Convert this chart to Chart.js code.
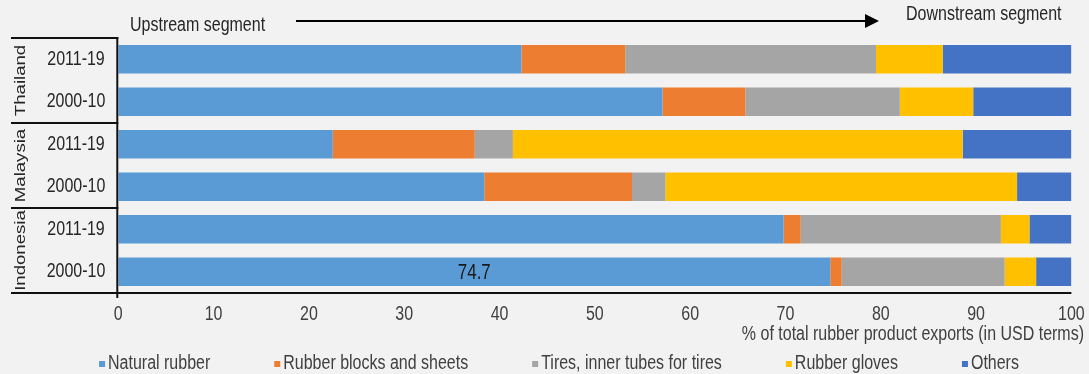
<!DOCTYPE html>
<html>
<head>
<meta charset="utf-8">
<script src="https://cdn.jsdelivr.net/npm/chart.js@4.4.1/dist/chart.umd.min.js"></script>
<style>
  html, body { margin: 0; padding: 0; background: #f2f2f2; }
  #wrap { width: 1089px; height: 374px; }
</style>
</head>
<body>
<div id="wrap"><canvas id="rubberChart"></canvas></div>
<script>
// rows, top to bottom: two periods per country
const periods = ['2011-19', '2000-10', '2011-19', '2000-10', '2011-19', '2000-10'];
const countries = ['Thailand', 'Malaysia', 'Indonesia'];

// share of total rubber product exports, %
const naturalRubber = [42.3, 57.1, 22.5, 38.4, 69.8, 74.7];
const blocksSheets  = [10.9,  8.7, 14.9, 15.5,  1.8,  1.2];
const tires         = [26.3, 16.2,  4.0,  3.5, 21.0, 17.1];
const gloves        = [ 7.0,  7.7, 47.2, 36.9,  3.0,  3.3];
const others        = [13.5, 10.3, 11.4,  5.7,  4.4,  3.7];

const seriesNames = ['Natural rubber', 'Rubber blocks and sheets', 'Tires, inner tubes for tires', 'Rubber gloves', 'Others'];
const seriesData = [naturalRubber, blocksSheets, tires, gloves, others];
const seriesColors = ['#5b9bd5', '#ed7d31', '#a5a5a5', '#ffc000', '#4472c4'];

const xTitle = '% of total rubber product exports (in USD terms)';
const SANS = '"Liberation Sans", Arial, sans-serif';
const TEXT = '#262626';
const SQUEEZE = 0.82; // narrow look: regular sans squeezed horizontally

function narrowWidth(ctx, txt, size = 19.5, squeeze = SQUEEZE) {
  ctx.font = size + 'px ' + SANS;
  return ctx.measureText(txt).width * squeeze;
}

function narrowText(ctx, txt, x, y, align, color, size = 19.5, squeeze = SQUEEZE) {
  ctx.save();
  ctx.translate(x, y);
  ctx.scale(squeeze, 1);
  ctx.font = size + 'px ' + SANS;
  ctx.textAlign = align;
  ctx.textBaseline = 'middle';
  ctx.fillStyle = color;
  ctx.fillText(txt, 0, 0);
  ctx.restore();
}

// labels, axis text, group separators, arrow and legend drawn around the plot
const decor = {
  id: 'decor',
  afterDraw(chart) {
    const { ctx, chartArea: a } = chart;
    const x = chart.scales.x;
    const y = chart.scales.y;
    const step = y.getPixelForValue(1) - y.getPixelForValue(0);
    ctx.save();

    // group separator lines and axis lines
    ctx.strokeStyle = '#111';
    ctx.lineWidth = 2;
    [0, 2, 4].forEach(i => {
      const yy = y.getPixelForValue(i) - step / 2;
      ctx.beginPath();
      ctx.moveTo(11, yy);
      ctx.lineTo(a.left, yy);
      ctx.stroke();
    });
    ctx.beginPath();
    ctx.moveTo(11, a.bottom);
    ctx.lineTo(a.right, a.bottom);
    ctx.stroke();
    ctx.beginPath();
    ctx.moveTo(a.left - 1, a.top - 1);
    ctx.lineTo(a.left - 1, a.bottom + 5);
    ctx.stroke();

    // period labels
    periods.forEach((p, i) => narrowText(ctx, p, 76, y.getPixelForValue(i), 'center', TEXT));

    // country labels, rotated
    countries.forEach((c, g) => {
      const cy = y.getPixelForValue(g * 2) + step / 2;
      ctx.save();
      ctx.translate(21, cy);
      ctx.rotate(-Math.PI / 2);
      ctx.scale(1.2, 1);
      ctx.font = '15.5px ' + SANS;
      ctx.fillStyle = TEXT;
      ctx.textAlign = 'center';
      ctx.textBaseline = 'middle';
      ctx.fillText(c, 0, 0);
      ctx.restore();
    });

    // x tick labels and axis title
    x.ticks.forEach(t => narrowText(ctx, String(t.value), x.getPixelForValue(t.value), 315, 'center', '#404040'));
    narrowText(ctx, xTitle, 1084, 335, 'right', '#404040');

    // value on the Indonesia 2000-10 natural rubber bar
    const bar = chart.getDatasetMeta(0).data[5];
    narrowText(ctx, naturalRubber[5].toFixed(1), (bar.x + bar.base) / 2, bar.y + 1, 'center', '#1a1a1a', 22, 0.77);

    // upstream -> downstream arrow
    narrowText(ctx, 'Upstream segment', 130, 26, 'left', TEXT);
    narrowText(ctx, 'Downstream segment', 906, 15, 'left', TEXT);
    ctx.strokeStyle = '#000';
    ctx.beginPath();
    ctx.moveTo(296, 21);
    ctx.lineTo(868, 21);
    ctx.stroke();
    ctx.fillStyle = '#000';
    ctx.beginPath();
    ctx.moveTo(879, 21);
    ctx.lineTo(865, 14);
    ctx.lineTo(865, 28);
    ctx.closePath();
    ctx.fill();

    // legend
    const gap = 64;
    const widths = seriesNames.map(n => 9 + narrowWidth(ctx, n));
    const total = widths.reduce((s, w) => s + w, 0) + gap * (widths.length - 1);
    let lx = 559 - total / 2;
    seriesNames.forEach((n, i) => {
      ctx.fillStyle = seriesColors[i];
      ctx.fillRect(lx, 361, 6, 6);
      narrowText(ctx, n, lx + 9, 364, 'left', '#404040');
      lx += widths[i] + gap;
    });

    ctx.restore();
  }
};

new Chart(document.getElementById('rubberChart'), {
  type: 'bar',
  data: {
    labels: periods,
    datasets: seriesNames.map((name, i) => ({
      label: name,
      data: seriesData[i],
      backgroundColor: seriesColors[i],
      borderWidth: 0,
      barPercentage: 0.67,
      categoryPercentage: 1
    }))
  },
  options: {
    indexAxis: 'y',
    responsive: true,
    maintainAspectRatio: false,
    animation: false,
    devicePixelRatio: 1,
    layout: { padding: { top: 38, right: 17.6, bottom: 28, left: 0 } },
    plugins: {
      legend: { display: false },
      tooltip: { enabled: false }
    },
    scales: {
      x: {
        stacked: true,
        min: 0,
        max: 100,
        ticks: { stepSize: 10, display: false },
        grid: { display: false, drawTicks: false },
        border: { display: false },
        afterFit(s) { s.height = 53; }
      },
      y: {
        stacked: true,
        ticks: { display: false },
        grid: { display: false },
        border: { display: false },
        afterFit(s) { s.width = 118.3; }
      }
    }
  },
  plugins: [decor]
});
</script>
</body>
</html>
